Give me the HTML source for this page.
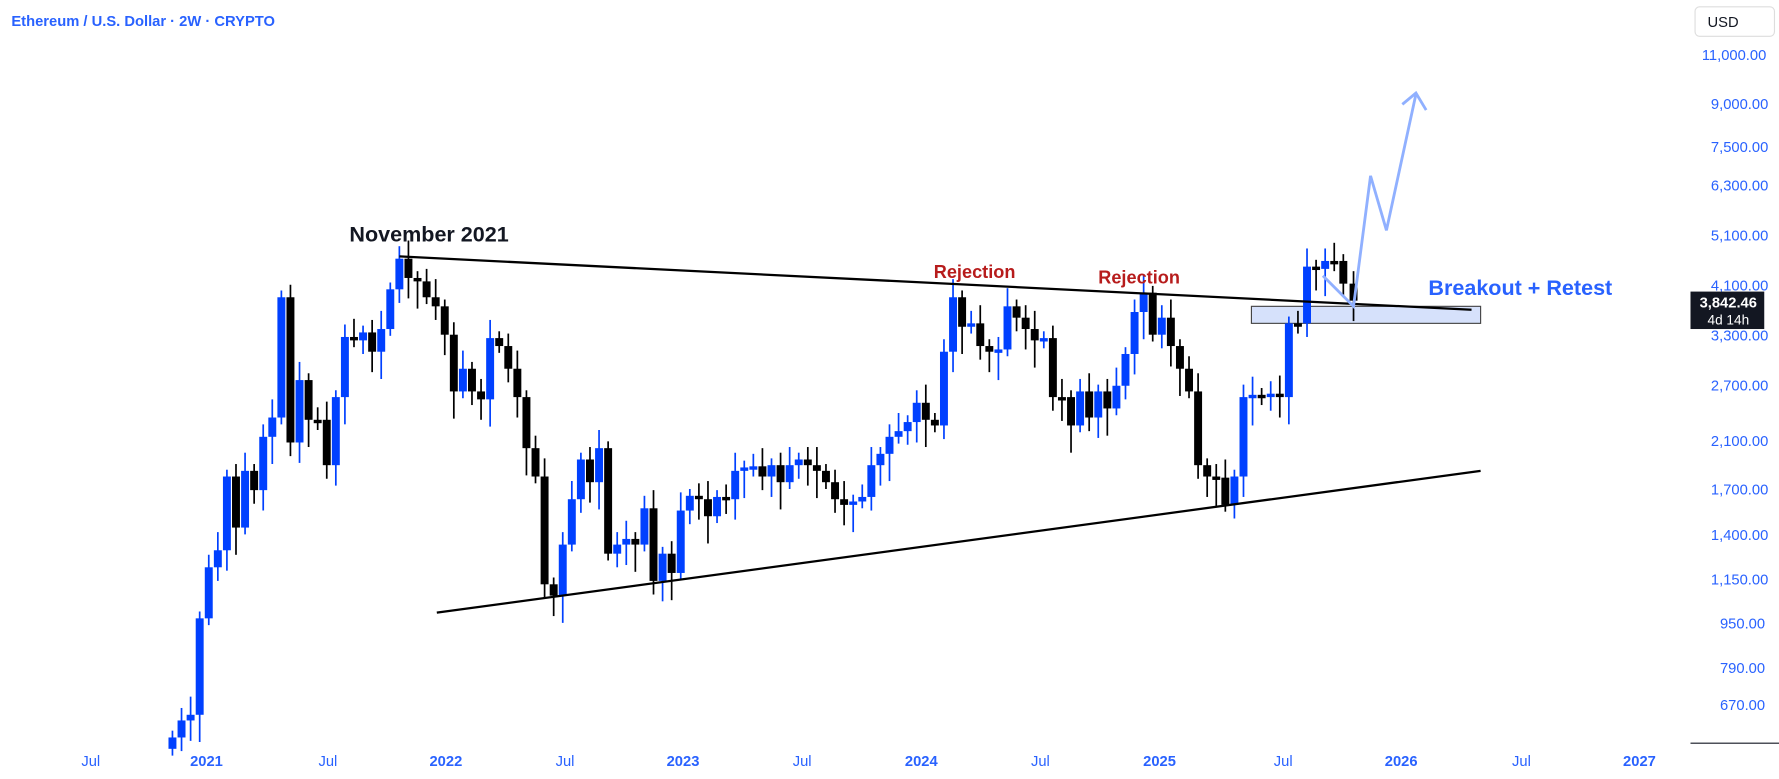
<!DOCTYPE html><html><head><style>body{margin:0;background:#fff;font-family:"Liberation Sans",sans-serif}</style></head><body>
<svg width="1779" height="779" viewBox="0 0 1568 686.6" preserveAspectRatio="none" xmlns="http://www.w3.org/2000/svg" id="s" style="display:block">
<text x="10" y="23" font-size="13" font-weight="bold" fill="#2962ff">Ethereum / U.S. Dollar · 2W · CRYPTO</text>
<rect x="1494" y="6" width="70" height="26" rx="4" fill="#fff" stroke="#ddd"/>
<text x="1505" y="24" font-size="13" fill="#131722">USD</text>
<g font-size="13" fill="#2962ff">
<text x="1500" y="53">11,000.00</text><text x="1508" y="96">9,000.00</text><text x="1508" y="134">7,500.00</text><text x="1508" y="168">6,300.00</text><text x="1508" y="212">5,100.00</text><text x="1508" y="256">4,100.00</text><text x="1508" y="300">3,300.00</text><text x="1508" y="344">2,700.00</text><text x="1508" y="393">2,100.00</text><text x="1508" y="436">1,700.00</text><text x="1508" y="476">1,400.00</text><text x="1508" y="515">1,150.00</text><text x="1516" y="554">950.00</text><text x="1516" y="593">790.00</text><text x="1516" y="626">670.00</text>
</g>
<line x1="1490" y1="655" x2="1568" y2="655" stroke="#131722"/>
<g font-size="13" fill="#2962ff" text-anchor="middle">
<text x="80" y="675">Jul</text><text x="182" y="675" font-weight="bold">2021</text><text x="289" y="675">Jul</text><text x="393" y="675" font-weight="bold">2022</text><text x="498" y="675">Jul</text><text x="602" y="675" font-weight="bold">2023</text><text x="707" y="675">Jul</text><text x="812" y="675" font-weight="bold">2024</text><text x="917" y="675">Jul</text><text x="1022" y="675" font-weight="bold">2025</text><text x="1131" y="675">Jul</text><text x="1235" y="675" font-weight="bold">2026</text><text x="1341" y="675">Jul</text><text x="1445" y="675" font-weight="bold">2027</text>
</g>
<rect x="1103" y="270" width="202" height="15" fill="#d6e1fb" stroke="#444"/>
<g id="c"></g>
<line x1="352" y1="226" x2="1297" y2="273" stroke="#000" stroke-width="2"/>
<line x1="385" y1="540" x2="1305" y2="415" stroke="#000" stroke-width="2"/>
<polyline points="1166,243 1193,270 1208,155 1222,203 1248,83" fill="none" stroke="#90b0ff" stroke-width="2.5"/>
<polyline points="1236,92 1248,82 1257,97" fill="none" stroke="#90b0ff" stroke-width="2.5"/>
<text x="308" y="213" font-size="19" font-weight="bold" fill="#131722">November 2021</text>
<text x="823" y="245" font-size="16" font-weight="bold" fill="#b71c1c">Rejection</text>
<text x="968" y="250" font-size="16" font-weight="bold" fill="#b71c1c">Rejection</text>
<text x="1259" y="260" font-size="19" font-weight="bold" fill="#2962ff">Breakout + Retest</text>
<rect x="1490" y="257" width="65" height="33" fill="#131722"/>
<text x="1498" y="271" font-size="13" font-weight="bold" fill="#fff">3,842.46</text>
<text x="1505" y="286" font-size="12" fill="#fff">4d 14h</text>
</svg>
<script>
var d=[[152,650],[160,635],[168,630],[176,545],[184,500],[192,485],[200,420],[208,465],[216,415],[224,432],[232,385],[240,368],[248,262],[256,390],[264,335],[272,370],[280,370],[288,410],[296,350],[304,297],[312,300],[320,293],[328,310],[336,290],[344,255],[352,228],[360,245],[368,248],[376,262],[384,270],[392,295],[400,345],[408,325],[416,345],[424,352],[432,298],[440,305],[448,325],[456,350],[464,395],[472,420],[480,515],[488,525],[496,480],[504,440],[512,405],[520,425],[528,395],[536,488],[544,480],[552,475],[560,480],[568,448],[576,512],[584,488],[592,505],[600,450],[608,437],[616,440],[624,455],[632,438],[640,440],[648,415],[656,412],[664,411],[672,420],[680,410],[688,425],[696,410],[704,405],[712,410],[720,415],[728,425],[736,440],[744,445],[752,442],[760,438],[768,410],[776,400],[784,385],[792,380],[800,372],[808,355],[816,370],[824,375],[832,310],[840,262],[848,288],[856,285],[864,305],[872,310],[880,308],[888,270],[896,280],[904,290],[912,300],[920,298],[928,350],[936,350],[944,375],[952,345],[960,368],[968,345],[976,360],[984,340],[992,312],[1000,275],[1008,258],[1016,295],[1024,280],[1032,305],[1040,325],[1048,345],[1056,410],[1064,420],[1072,421],[1080,445],[1088,420],[1096,350],[1104,348],[1112,350],[1120,347],[1128,350],[1136,285],[1144,285],[1152,235],[1160,237],[1168,230],[1176,230],[1184,250],[1193,265]];
var g=document.getElementById('c'),h='',p=660;
d.forEach(function(e,i){var x=e[0],c=e[1],o=p,up=c<o,col=up?'#0040ff':'#000';var t=Math.min(o,c),b=Math.max(o,c);if(b-t<3)b=t+3;var w1=t-6-(i%3)*5,w2=b+6+(i%4)*6;h+='<line x1="'+x+'" x2="'+x+'" y1="'+w1+'" y2="'+w2+'" stroke="'+col+'" stroke-width="1.5"/><rect x="'+(x-3.5)+'" y="'+t+'" width="7" height="'+(b-t)+'" fill="'+col+'"/>';p=c;});
g.innerHTML=h;
</script>
</body></html>
